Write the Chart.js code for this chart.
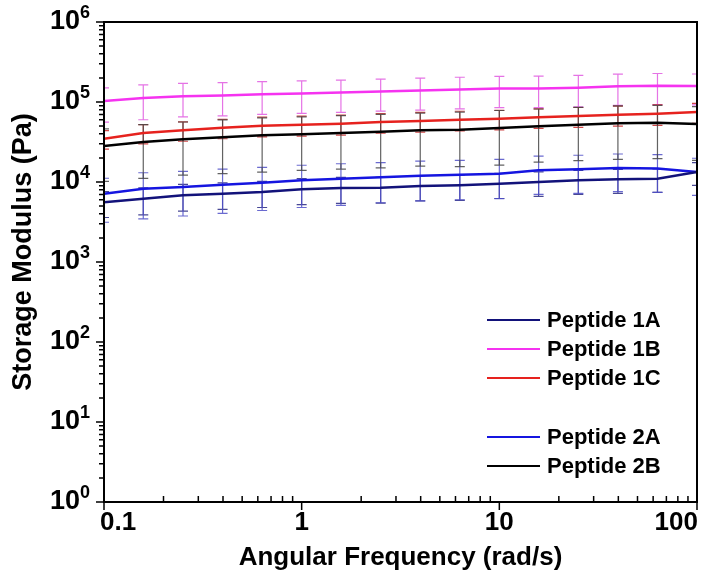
<!DOCTYPE html>
<html>
<head>
<meta charset="utf-8">
<script src="https://cdn.jsdelivr.net/npm/chart.js@4/dist/chart.umd.min.js"></script>
<style>
  html, body { margin: 0; padding: 0; background: #fff; }
  #wrap { width: 720px; height: 581px; position: relative; }
</style>
</head>
<body>
<div id="wrap"><canvas id="modulus"></canvas></div>
<script>
// angular frequency (rad/s), 5 points per decade
const freq = [0.1, 0.158, 0.251, 0.398, 0.631, 1, 1.58, 2.51, 3.98, 6.31, 10, 15.8, 25.1, 39.8, 63.1, 100];

// storage modulus (Pa)
const pep1A = [5600, 6180, 6820, 7140, 7500, 8110, 8410, 8450, 8900, 9100, 9520, 10000, 10500, 10800, 11000, 13300];
const pep1B = [103000, 112000, 118000, 121000, 125000, 128000, 131000, 135000, 139000, 143000, 147000, 148000, 151000, 157000, 160000, 158000];
const pep1C = [34800, 41000, 44300, 47700, 50600, 52000, 53500, 56200, 58000, 60100, 61800, 64400, 66800, 69400, 71400, 75000];
const pep2A = [7140, 8250, 8660, 9250, 9800, 10500, 11000, 11500, 12000, 12300, 12700, 14000, 14400, 15000, 14700, 13300];
const pep2B = [28200, 31600, 34200, 36200, 38300, 39500, 41000, 42500, 44300, 45100, 47300, 49700, 52000, 54200, 55100, 53100];

// +/- error (Pa)
const err1A = [2000, 2300, 2500, 2600, 2700, 2900, 3000, 3000, 3100, 3200, 3300, 3400, 3500, 3600, 3600, 4200];
const err1B = [47000, 52000, 53000, 54000, 55000, 56000, 57000, 58000, 60000, 61000, 62000, 63000, 64000, 66000, 67000, 66000];
const err1C = [9000, 11000, 12000, 13000, 14000, 14500, 15000, 15500, 16000, 16500, 17000, 17500, 18500, 19500, 20500, 21000];
const err2A = [4000, 4800, 4900, 5200, 5400, 5700, 5900, 6000, 6200, 6300, 6500, 7000, 7200, 7400, 7300, 6500];
const err2B = [18000, 20500, 22000, 23500, 25000, 25500, 26500, 27500, 28500, 29500, 31000, 32000, 33500, 35000, 35500, 34500];

const xTicks = [0.1, 1, 10, 100];
const xTickLabels = ['0.1', '1', '10', '100'];
const yTicks = [1, 10, 100, 1000, 10000, 100000, 1000000];
const yTickExp = ['0', '1', '2', '3', '4', '5', '6'];

const FONT = 'Liberation Sans, Arial, sans-serif';

function pts(ys) {
  return freq.map((f, i) => ({ x: f, y: ys[i] }));
}

const series = [
  { label: 'Peptide 1A', data: pep1A, err: err1A, color: '#12127a', barColor: 'rgba(40,40,130,0.85)', legendGap: false },
  { label: 'Peptide 1B', data: pep1B, err: err1B, color: '#f533f0', barColor: 'rgba(225,90,225,0.85)', legendGap: false },
  { label: 'Peptide 1C', data: pep1C, err: err1C, color: '#e6221e', barColor: 'rgba(200,40,40,0.85)', legendGap: false },
  { label: 'Peptide 2A', data: pep2A, err: err2A, color: '#1515e0', barColor: 'rgba(80,80,200,0.85)', legendGap: true },
  { label: 'Peptide 2B', data: pep2B, err: err2B, color: '#000000', barColor: 'rgba(70,70,70,0.85)', legendGap: false }
];

// error bars, drawn under the lines
const errorBars = {
  id: 'errorBars',
  beforeDatasetsDraw: function(chart) {
    const ctx = chart.ctx, a = chart.chartArea;
    const xs = chart.scales.x, ys = chart.scales.y;
    ctx.save();
    ctx.beginPath();
    ctx.rect(a.left, a.top, a.right - a.left, a.bottom - a.top);
    ctx.clip();
    ctx.lineWidth = 1.2;
    series.forEach(s => {
      ctx.strokeStyle = s.barColor;
      s.data.forEach((v, i) => {
        const px = xs.getPixelForValue(freq[i]);
        const top = ys.getPixelForValue(v + s.err[i]);
        const bot = ys.getPixelForValue(Math.max(v - s.err[i], 1));
        ctx.beginPath();
        ctx.moveTo(px, top); ctx.lineTo(px, bot);
        ctx.moveTo(px - 5, top); ctx.lineTo(px + 5, top);
        ctx.moveTo(px - 5, bot); ctx.lineTo(px + 5, bot);
        ctx.stroke();
      });
    });
    ctx.restore();
  }
};

// frame, ticks, tick labels (10^n with raised exponent), y title and the legend box
const frame = {
  id: 'frame',
  afterDraw: function(chart) {
    const ctx = chart.ctx, a = chart.chartArea;
    const xs = chart.scales.x, ys = chart.scales.y;
    ctx.save();
    ctx.strokeStyle = '#000';
    ctx.lineWidth = 2;
    ctx.strokeRect(a.left, a.top, a.right - a.left, a.bottom - a.top);

    ctx.lineWidth = 1.5;
    ctx.beginPath();
    // y ticks point outwards
    for (let e = 0; e <= 6; e++) {
      const p = ys.getPixelForValue(Math.pow(10, e));
      ctx.moveTo(a.left - 8, p); ctx.lineTo(a.left, p);
      if (e < 6) {
        for (let m = 2; m <= 9; m++) {
          const q = ys.getPixelForValue(m * Math.pow(10, e));
          ctx.moveTo(a.left - 5, q); ctx.lineTo(a.left, q);
        }
      }
    }
    // x major ticks down, minor ticks inward
    for (let e = -1; e <= 2; e++) {
      const p = xs.getPixelForValue(Math.pow(10, e));
      ctx.moveTo(p, a.bottom + 8); ctx.lineTo(p, a.bottom);
      if (e < 2) {
        for (let m = 2; m <= 9; m++) {
          const q = xs.getPixelForValue(m * Math.pow(10, e));
          ctx.moveTo(q, a.bottom - 6); ctx.lineTo(q, a.bottom);
        }
      }
    }
    ctx.stroke();

    ctx.fillStyle = '#000';
    // y tick labels
    yTicks.forEach((v, i) => {
      const p = ys.getPixelForValue(v);
      ctx.font = 'bold 18px ' + FONT;
      ctx.textAlign = 'right';
      ctx.textBaseline = 'middle';
      ctx.fillText(yTickExp[i], 90, p - 9);
      const w = ctx.measureText(yTickExp[i]).width;
      ctx.font = 'bold 27px ' + FONT;
      ctx.fillText('10', 90 - w, p);
    });
    // x tick labels, end labels pulled inside like the original
    ctx.font = 'bold 26px ' + FONT;
    ctx.textBaseline = 'middle';
    xTicks.forEach((v, i) => {
      let p = xs.getPixelForValue(v);
      ctx.textAlign = 'center';
      if (i === 0) { ctx.textAlign = 'left'; p = p - 4; }
      if (i === xTicks.length - 1) { ctx.textAlign = 'right'; p = p + 1; }
      ctx.fillText(xTickLabels[i], p, a.bottom + 21);
    });

    // y axis title
    ctx.save();
    ctx.translate(24, 252);
    ctx.rotate(-Math.PI / 2);
    ctx.font = 'bold 27px ' + FONT;
    ctx.textAlign = 'center';
    ctx.textBaseline = 'middle';
    ctx.fillText('Storage Modulus (Pa)', 0, 0);
    ctx.restore();

    // legend
    ctx.font = 'bold 22px ' + FONT;
    ctx.textBaseline = 'middle';
    ctx.textAlign = 'left';
    let y = 320;
    series.forEach(s => {
      if (s.legendGap) y += 30;
      ctx.strokeStyle = s.color;
      ctx.lineWidth = 2;
      ctx.beginPath();
      ctx.moveTo(487, y); ctx.lineTo(540, y);
      ctx.stroke();
      ctx.fillStyle = '#000';
      ctx.fillText(s.label, 547, y + 1);
      y += 29;
    });
    ctx.restore();
  }
};

new Chart(document.getElementById('modulus'), {
  type: 'line',
  data: {
    datasets: series.map(s => ({
      label: s.label,
      data: pts(s.data),
      borderColor: s.color,
      backgroundColor: s.color,
      borderWidth: 2.5,
      pointRadius: 0,
      tension: 0,
      fill: false
    }))
  },
  options: {
    responsive: true,
    maintainAspectRatio: false,
    animation: false,
    layout: { padding: { top: 22, right: 23, left: 0, bottom: 0 } },
    plugins: {
      legend: { display: false },
      tooltip: { enabled: false }
    },
    scales: {
      x: {
        type: 'logarithmic',
        min: 0.1,
        max: 100,
        grid: { display: false, drawTicks: false },
        border: { display: false },
        afterBuildTicks: s => { s.ticks = xTicks.map(v => ({ value: v })); },
        afterFit: s => { s.height = 79; s.paddingLeft = 0; s.paddingRight = 0; },
        ticks: { display: false },
        title: {
          display: true,
          text: 'Angular Frequency (rad/s)',
          color: '#000',
          font: { family: FONT, size: 26, weight: 'bold' },
          padding: { top: 0, bottom: 8 }
        }
      },
      y: {
        type: 'logarithmic',
        min: 1,
        max: 1000000,
        grid: { display: false, drawTicks: false },
        border: { display: false },
        afterBuildTicks: s => { s.ticks = yTicks.map(v => ({ value: v })); },
        afterFit: s => { s.width = 104; s.paddingTop = 0; s.paddingBottom = 0; },
        ticks: { display: false },
        title: { display: false }
      }
    }
  },
  plugins: [errorBars, frame]
});
</script>
</body>
</html>
